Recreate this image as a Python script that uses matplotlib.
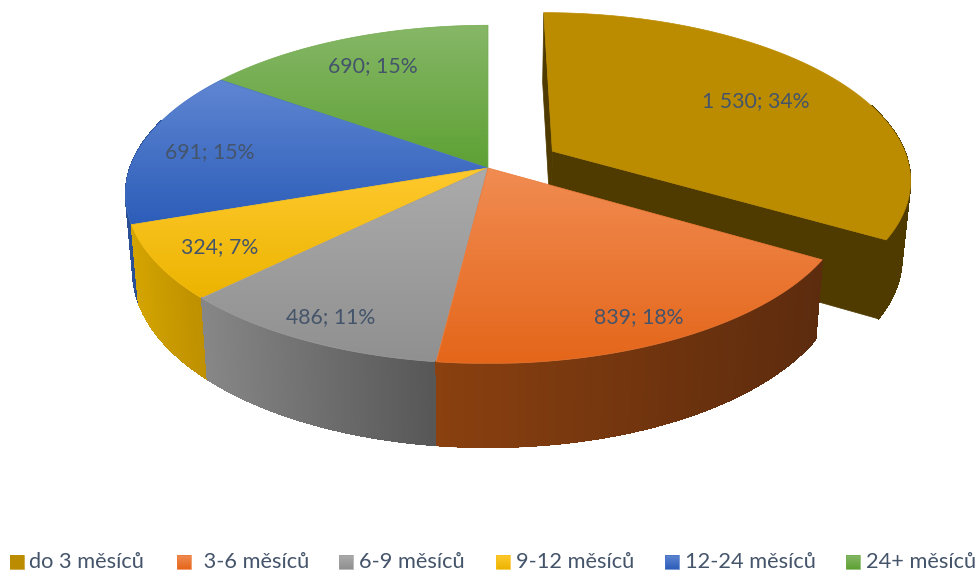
import numpy as np
import matplotlib
matplotlib.use('Agg')
import matplotlib.pyplot as plt
from matplotlib.collections import LineCollection, PolyCollection
from matplotlib.colors import to_rgb
from matplotlib.patches import Polygon

categories = ['do 3 měsíců', ' 3-6 měsíců', '6-9 měsíců', '9-12 měsíců', '12-24 měsíců', '24+ měsíců']
values = [1530, 839, 486, 324, 691, 690]

# vertical gradient of the top faces, horizontal gradient of the rims
top_light = ['#BC8C00', '#F18C52', '#ABABAB', '#FFC92E', '#5F86D2', '#86B767']
top_dark = ['#BC8C00', '#E4661A', '#909090', '#ECB400', '#2C5DB9', '#5EA134']
rim_left = ['#4F3B00', '#8A400F', '#878787', '#D4A500', '#2B4F94', '#3F6A26']
rim_right = ['#4F3B00', '#5C2B0E', '#565656', '#BD8E00', '#2B4F94', '#3F6A26']

explode = [0.21, 0, 0, 0, 0, 0]
draw_order = [0, 5, 4, 3, 2, 1]
label_pos = [(756, 101), (639, 317), (331, 317), (220, 247), (210, 152), (373, 66)]
legend_square_x = [10, 177, 339, 496, 665, 846]
legend_text_x = [29, 198, 359, 516, 685, 866]

text_color = '#44546A'
cx, cy = 488, 168
ax_x, ax_y, persp = 358, 165, 0.156
depth_offset, depth_scale_x, depth_scale_y = 76, 0.98, 1.04

plt.rcParams['font.family'] = ['Lato', 'DejaVu Sans']

fig = plt.figure(figsize=(9.77, 5.71), dpi=100)
ax = fig.add_axes([0, 0, 1, 1])
ax.axis('off')


def project(x3, y3):
    # y3 grows towards the viewer
    d = 1 - persp * y3
    return ax_x * x3 / d, ax_y * y3 / d


def top_point(x3, y3):
    x, y = project(x3, y3)
    return cx + x, cy + y


def low_point(x3, y3):
    x, y = project(x3, y3)
    return cx + depth_scale_x * x, cy + depth_offset + depth_scale_y * y


def mix(c0, c1, t):
    return (1 - t) * np.array(to_rgb(c0)) + t * np.array(to_rgb(c1))


def gradient_fill(verts, c0, c1, zorder=1):
    verts = np.array(verts)
    x0, x1 = verts[:, 0].min(), verts[:, 0].max()
    y0, y1 = verts[:, 1].min(), verts[:, 1].max()
    t = np.linspace(0, 1, 256)[:, None]
    img = mix(c0, c1, t)[:, None, :]
    im = ax.imshow(img, extent=(x0, x1, y1, y0), aspect='auto', zorder=zorder, interpolation='bilinear')
    patch = Polygon(verts, closed=True, transform=ax.transData, fc='none', ec='none')
    ax.add_patch(patch)
    im.set_clip_path(patch)
    # soft edge, clipped images come out jagged
    ax.add_patch(Polygon(verts, closed=True, fc='none', ec=mix(c0, c1, 0.5), lw=0.5, zorder=zorder))


def rim_fill(top_arc, low_arc, c0, c1, zorder=1):
    # one quad per arc step, so the silhouette between the two arcs is covered too
    if len(top_arc) < 2:
        return
    top_arc, low_arc = np.array(top_arc), np.array(low_arc)
    quads = [[top_arc[k], top_arc[k + 1], low_arc[k + 1], low_arc[k]] for k in range(len(top_arc) - 1)]
    all_x = np.concatenate([top_arc[:, 0], low_arc[:, 0]])
    tx = (np.mean(np.array(quads)[:, :, 0], axis=1) - all_x.min()) / (all_x.max() - all_x.min())
    colors = [mix(c0, c1, t) for t in tx]
    # antialiasing would leave seams between the quads
    ax.add_collection(PolyCollection(quads, facecolors=colors, edgecolors=colors, linewidths=0.5,
                                     antialiaseds=False, zorder=zorder))
    segs = [[low_arc[k], low_arc[k + 1]] for k in range(len(low_arc) - 1)]
    ax.add_collection(LineCollection(segs, colors=colors, linewidths=0.8, zorder=zorder))


total = sum(values)
edges = np.radians(np.concatenate([[0], np.cumsum(values) / total * 360]))

for z, i in enumerate(draw_order):
    th = np.linspace(edges[i], edges[i + 1], 200)
    mid = (edges[i] + edges[i + 1]) / 2
    ox, oy = explode[i] * np.sin(mid), -explode[i] * np.cos(mid)
    xs, ys = np.sin(th) + ox, -np.cos(th) + oy

    top_arc = [top_point(a, b) for a, b in zip(xs, ys)]
    low_arc = [low_point(a, b) for a, b in zip(xs, ys)]
    apex_top = top_point(ox, oy)
    apex_low = low_point(ox, oy)

    if explode[i] > 0:
        # cut faces of the pulled out slice
        for k in (0, -1):
            wall = [apex_top, top_arc[k], low_arc[k], apex_low]
            ax.add_patch(Polygon(wall, closed=True, fc=rim_left[i], ec=rim_left[i], lw=0.5, zorder=z * 3 + 1))

    # the back of the rim stays hidden behind the top faces
    front = np.nonzero(np.cos(th) < 0.3)[0]
    rim_fill([top_arc[k] for k in front], [low_arc[k] for k in front], rim_left[i], rim_right[i], zorder=z * 3 + 2)
    gradient_fill([apex_top] + top_arc, top_light[i], top_dark[i], zorder=z * 3 + 3)

for i, v in enumerate(values):
    label = f"{v:,}".replace(',', ' ') + f"; {v / total * 100:.0f}%"
    ax.text(label_pos[i][0], label_pos[i][1], label, color=text_color, fontsize=15.3,
            ha='center', va='center', zorder=50)

for i, name in enumerate(categories):
    sx = legend_square_x[i]
    square = [(sx, 555), (sx + 14, 555), (sx + 14, 569), (sx, 569)]
    gradient_fill(square, top_light[i], top_dark[i], zorder=50)
    ax.text(legend_text_x[i], 562, name, color=text_color, fontsize=15.7, ha='left', va='center', zorder=50)

ax.set_xlim(0, 977)
ax.set_ylim(571, 0)

fig.savefig('out.png', dpi=100)
